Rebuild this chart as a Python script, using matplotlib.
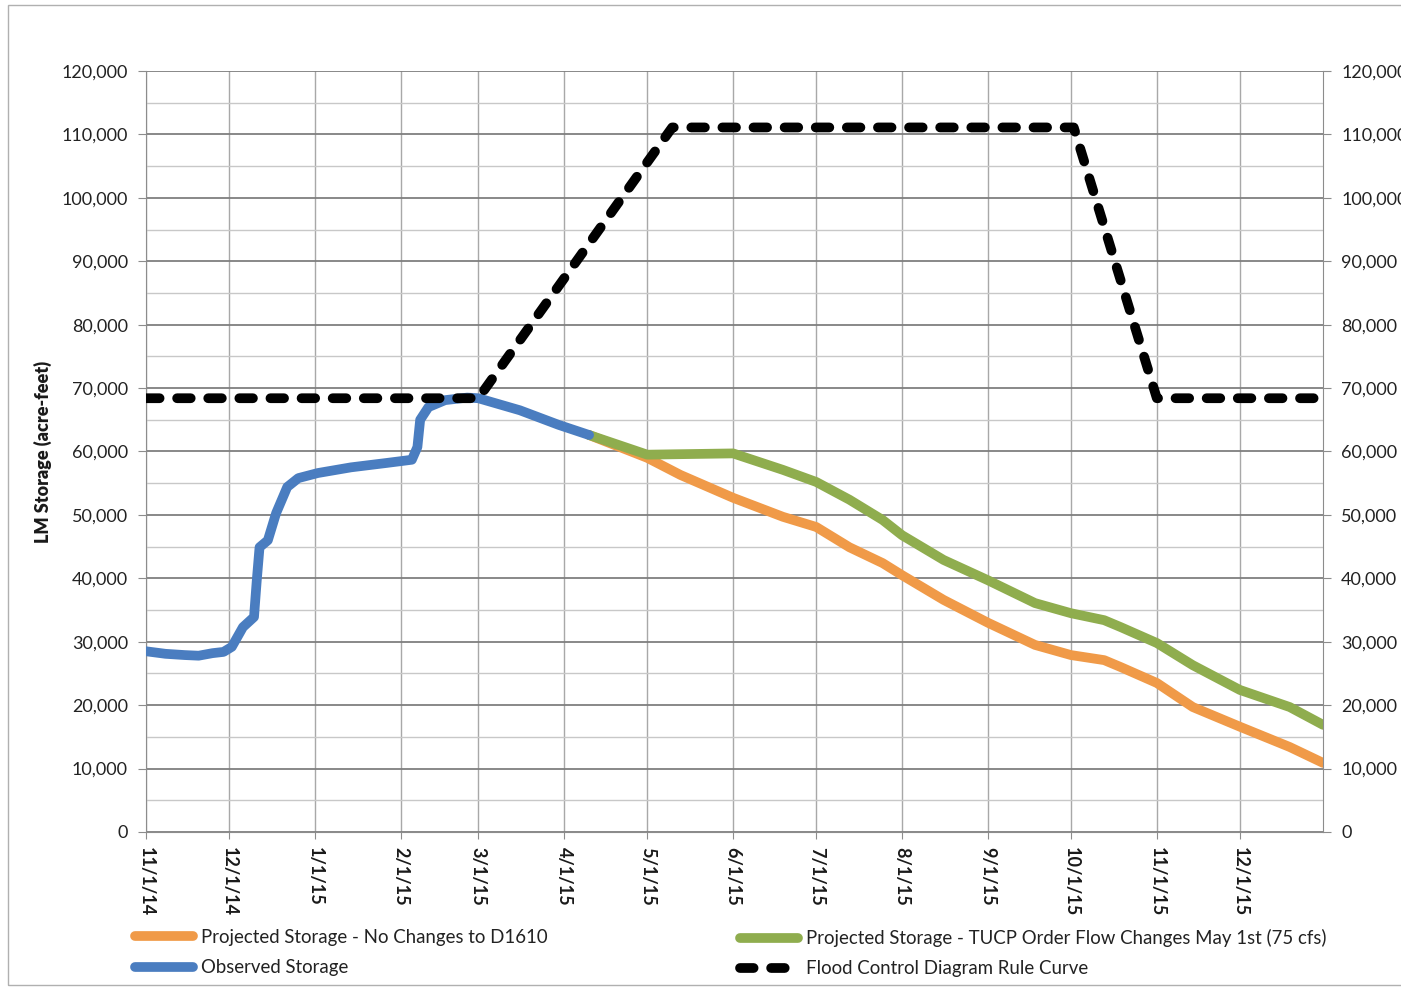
import matplotlib
matplotlib.use("Agg")
import matplotlib.pyplot as plt
import matplotlib.ticker as ticker
import pandas as pd
from matplotlib.patches import Rectangle

plt.rcParams["font.family"] = ["Lato", "DejaVu Sans"]

# Observed storage (acre-feet)
obs_dates = [
    "2014-11-01", "2014-11-08", "2014-11-15", "2014-11-20", "2014-11-25",
    "2014-11-29", "2014-12-02", "2014-12-06", "2014-12-10", "2014-12-11",
    "2014-12-12", "2014-12-15", "2014-12-18", "2014-12-22", "2014-12-26",
    "2015-01-02", "2015-01-14", "2015-01-27", "2015-02-05", "2015-02-07",
    "2015-02-08", "2015-02-11", "2015-02-17", "2015-02-25", "2015-03-01",
    "2015-03-16", "2015-03-30", "2015-04-10",
]
obs_vals = [
    28500, 28100, 27900, 27800, 28200,
    28400, 29200, 32300, 33900, 39700,
    44900, 46000, 50300, 54400, 55800,
    56600, 57500, 58200, 58700, 60700,
    65000, 67000, 68100, 68500, 68400,
    66500, 64200, 62600,
]

# Projected storage - no changes to D1610
proj_dates = [
    "2015-04-10", "2015-05-01", "2015-05-13", "2015-06-01", "2015-06-19",
    "2015-07-01", "2015-07-13", "2015-07-25", "2015-08-01", "2015-08-16",
    "2015-09-01", "2015-09-18", "2015-10-01", "2015-10-13", "2015-10-19",
    "2015-11-01", "2015-11-14", "2015-12-01", "2015-12-19", "2015-12-31",
]
nochange_vals = [
    62600, 59000, 56300, 52700, 49700,
    48100, 44900, 42400, 40500, 36600,
    33000, 29500, 27900, 27100, 26000,
    23500, 19700, 16600, 13400, 10900,
]

# Projected storage - TUCP order flow changes May 1st
tucp_dates = [
    "2015-04-10", "2015-05-01", "2015-06-01", "2015-06-19", "2015-07-01",
    "2015-07-13", "2015-07-25", "2015-08-01", "2015-08-16", "2015-09-01",
    "2015-09-18", "2015-10-01", "2015-10-13", "2015-10-19", "2015-11-01",
    "2015-11-14", "2015-12-01", "2015-12-19", "2015-12-31",
]
tucp_vals = [
    62600, 59500, 59700, 57100, 55200,
    52400, 49200, 46800, 42900, 39700,
    36100, 34500, 33400, 32300, 29800,
    26300, 22400, 19700, 16900,
]

# Flood control diagram rule curve
rule_dates = ["2014-11-01", "2015-03-01", "2015-05-10", "2015-10-02",
              "2015-11-01", "2015-12-30"]
rule_vals = [68400, 68400, 111100, 111100, 68400, 68400]

tick_dates = pd.date_range("2014-11-01", "2015-12-01", freq="MS")

W, H = 1401, 989
fig = plt.figure(figsize=(W / 100, H / 100), dpi=100)
fig.patch.set_facecolor("white")
fig.patches.append(Rectangle((8 / W, 1 - 985 / H), 1.0, (985 - 5) / H,
                             transform=fig.transFigure, fill=False,
                             edgecolor="#b0b0b0", linewidth=1.0))

ax = fig.add_axes([146 / W, 1 - 832 / H, (1323 - 146) / W, (832 - 71) / H])

lw = 7
ax.plot(pd.to_datetime(proj_dates), nochange_vals, color="#F09A48",
        linewidth=lw, solid_capstyle="round", zorder=3,
        label="Projected Storage - No Changes to D1610")
ax.plot(pd.to_datetime(tucp_dates), tucp_vals, color="#8FAD4E",
        linewidth=lw, solid_capstyle="round", zorder=4,
        label="Projected Storage - TUCP Order Flow Changes May 1st (75 cfs)")
ax.plot(pd.to_datetime(obs_dates), obs_vals, color="#4A7DC0",
        linewidth=lw, solid_capstyle="round", zorder=5,
        label="Observed Storage")
rule, = ax.plot(pd.to_datetime(rule_dates), rule_vals, color="black",
                linewidth=7, dash_capstyle="round", zorder=6,
                label="Flood Control Diagram Rule Curve")
rule.set_dashes((1.4, 1.8))

ax.set_xlim(pd.Timestamp("2014-11-01"), pd.Timestamp("2015-12-31"))
ax.set_ylim(0, 120000)

ax.yaxis.set_major_locator(ticker.MultipleLocator(10000))
ax.yaxis.set_minor_locator(ticker.MultipleLocator(5000))
ax.yaxis.set_major_formatter(ticker.FuncFormatter(lambda v, p: f"{v:,.0f}"))
ax.set_xticks(tick_dates)
ax.set_xticklabels([f"{d.month}/{d.day}/{d.year % 100}" for d in tick_dates],
                   rotation=270, fontsize=13, fontweight="bold", color="#1a1a1a")

ax.grid(True, which="major", axis="y", color="#7f7f7f", linewidth=1.3)
ax.grid(True, which="minor", axis="y", color="#c8c8c8", linewidth=1.0)
ax.grid(True, which="major", axis="x", color="#a8a8a8", linewidth=1.0)
ax.set_axisbelow(True)

for side in ["top", "right"]:
    ax.spines[side].set_visible(False)
ax.spines["left"].set_color("#8c8c8c")
ax.spines["bottom"].set_color("#8c8c8c")
ax.tick_params(axis="y", which="major", length=6, color="#8c8c8c", pad=7,
               labelsize=13, labelcolor="#222222")
ax.tick_params(axis="y", which="minor", length=0)
ax.tick_params(axis="x", length=5, color="#8c8c8c", pad=6)

ax.set_ylabel("LM Storage (acre-feet)", fontsize=13, fontweight="heavy",
              color="#1a1a1a", labelpad=7)

ax2 = ax.twinx()
ax2.set_ylim(ax.get_ylim())
ax2.yaxis.set_major_locator(ticker.MultipleLocator(10000))
ax2.yaxis.set_major_formatter(ticker.FuncFormatter(lambda v, p: f"{v:,.0f}"))
ax2.tick_params(axis="y", length=6, color="#8c8c8c", pad=7,
                labelsize=13, labelcolor="#222222")
for side in ["top", "left", "bottom"]:
    ax2.spines[side].set_visible(False)
ax2.spines["right"].set_color("#8c8c8c")

h, l = ax.get_legend_handles_labels()
leg_kw = dict(frameon=False, fontsize=13.4, handlelength=3.1, handletextpad=0.45,
              labelspacing=0.7, borderaxespad=0, borderpad=0)
leg1 = fig.legend([h[0], h[2]], [l[0], l[2]], loc="upper left",
                  bbox_to_anchor=(135 / W, 1 - 929 / H), **leg_kw)
leg2 = fig.legend([h[1], h[3]], [l[1], l[3]], loc="upper left",
                  bbox_to_anchor=(740 / W, 1 - 929 / H), **leg_kw)
for lg in (leg1, leg2):
    for t in lg.get_texts():
        t.set_color("#222222")

fig.savefig("out.png", dpi=100, facecolor="white")
